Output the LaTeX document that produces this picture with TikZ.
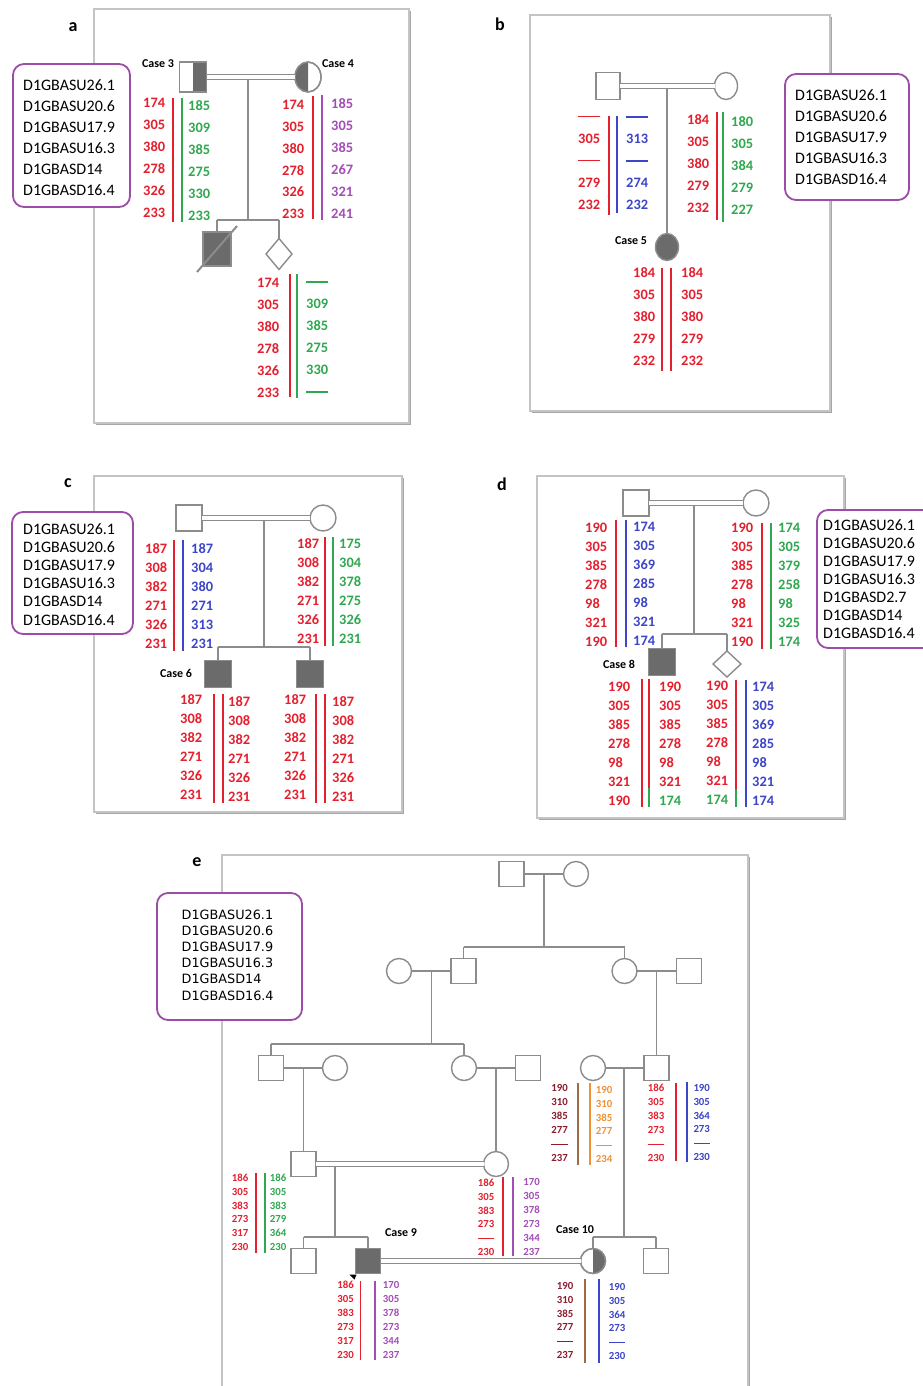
\documentclass[tikz,border=0pt]{standalone}
\usepackage{fontspec}
\setmainfont{Carlito}
\newfontfamily\dvfont{DejaVu Sans}
\usetikzlibrary{shapes.geometric,calc}
\definecolor{ared}{HTML}{E5202E}
\definecolor{agreen}{HTML}{2FA84F}
\definecolor{ablue}{HTML}{3D45C8}
\definecolor{apurple}{HTML}{A34DB6}
\definecolor{boxpurple}{HTML}{9C4DA8}
\definecolor{dred}{HTML}{8B1E2E}
\definecolor{abrown}{HTML}{A06A48}
\definecolor{aorange}{HTML}{F29035}
\definecolor{pedgray}{HTML}{8C8C8C}
\definecolor{affgray}{HTML}{6B6B6B}
\definecolor{framegray}{HTML}{C4C4C4}
\definecolor{shadowgray}{HTML}{A6A6A6}
\tikzset{
  ped/.style={draw=pedgray, line width=1.3pt},
  shp/.style={draw=pedgray, line width=1.4pt, fill=white, inner sep=0pt, outer sep=0pt},
  sqn/.style={shp, rectangle, minimum width=26pt, minimum height=26pt},
  cin/.style={shp, ellipse, minimum width=26pt, minimum height=26pt},
  dian/.style={shp, diamond, minimum width=26pt, minimum height=26pt},
  dbl/.style={draw=pedgray, double=white, double distance=3.6pt, line width=1.5pt},
  num/.style={font=\fontsize{14.4}{14}\selectfont\bfseries, inner sep=0pt, anchor=base west},
  snum/.style={font=\fontsize{10.8}{11}\selectfont\bfseries, inner sep=0pt, anchor=base west},
  mk/.style={font=\fontsize{16}{16}\selectfont, inner sep=0pt, anchor=base west},
  mke/.style={font=\dvfont\fontsize{12.8}{13}\selectfont, inner sep=0pt, anchor=base west},
  casel/.style={font=\fontsize{12}{12}\selectfont\bfseries, inner sep=0pt},
  plab/.style={font=\fontsize{18}{18}\selectfont\bfseries, inner sep=0pt},
  mbox/.style={draw=boxpurple, line width=1.8pt, rounded corners=11pt, fill=white},
  frm/.style={draw=framegray, line width=1.3pt},
  shd/.style={draw=shadowgray, line width=1.6pt},
  abarst/.style={line width=1.7pt},
  sbarst/.style={line width=1.4pt},
}
\newcommand\adash{\rule[0.28em]{1.5em}{0.09em}}
\newcommand\acol[6]{\foreach \v [count=\i] in {#6}{\node[num,text=#5] (#1\i) at ({#2-11},{#3+(\i-1)*#4+4.6}) {\v};}}
\newcommand\scol[6]{\foreach \v [count=\i] in {#6}{\node[snum,text=#5] (#1\i) at ({#2-8.3},{#3+(\i-1)*#4+3.5}) {\v};}}
\newcommand\abar[4]{\draw[abarst,#1] (#2,#3) -- (#2,#4);}
\newcommand\sbar[4]{\draw[sbarst,#1] (#2,#3) -- (#2,#4);}
\newcommand\mtext[6]{\foreach \t [count=\i] in {#6}{\node[#5] (#1\i) at (#2,{#3+(\i-1)*#4+5.1}) {\t};}}
\begin{document}
\begin{tikzpicture}[x=1pt,y=-1pt]
\useasboundingbox (0,0) rectangle (922,1386);
\fill[white] (0,0) rectangle (922,1386);
% frames with light shadow
\draw[shd] (410.5,11) -- (410.5,424.5) -- (96,424.5);
\draw[shd] (831.5,17) -- (831.5,412.5) -- (532,412.5);
\draw[shd] (403.5,478) -- (403.5,813.5) -- (96,813.5);
\draw[shd] (845.5,478) -- (845.5,819.5) -- (539,819.5);
\draw[shd] (749.5,857) -- (749.5,1392);
\draw[frm] (94,9) rectangle (409,423);
\draw[frm] (530,15) rectangle (830,411);
\draw[frm] (94,476) rectangle (402,812);
\draw[frm] (537,476) rectangle (844,818);
\draw[frm] (222,1392) -- (222,855) -- (748,855) -- (748,1392);
% panel labels
\node[plab] (la) at (73,27) {a};
\node[plab] (lb) at (500,24) {b};
\node[plab] (lc) at (68,483) {c};
\node[plab] (ld) at (502,484) {d};
\node[plab] (le) at (197,862) {e};
% marker boxes
\draw[mbox] (13,64) rectangle (130,207);
\draw[mbox] (785,74) rectangle (909,200);
\draw[mbox] (12,512) rectangle (133,634);
\draw[mbox] (817,510) rectangle (935,648);
\draw[mbox] (157,893) rectangle (302,1020);
\mtext{ma}{23}{85}{21}{mk}{D1GBASU26.1,D1GBASU20.6,D1GBASU17.9,D1GBASU16.3,D1GBASD14,D1GBASD16.4}
\mtext{mb}{795}{95}{21}{mk}{D1GBASU26.1,D1GBASU20.6,D1GBASU17.9,D1GBASU16.3,D1GBASD16.4}
\mtext{mc}{23}{529}{18.2}{mk}{D1GBASU26.1,D1GBASU20.6,D1GBASU17.9,D1GBASU16.3,D1GBASD14,D1GBASD16.4}
\mtext{md}{823}{525}{18}{mk}{D1GBASU26.1,D1GBASU20.6,D1GBASU17.9,D1GBASU16.3,D1GBASD2.7,D1GBASD14,D1GBASD16.4}
\mtext{me}{181.5}{914}{16.2}{mke}{D1GBASU26.1,D1GBASU20.6,D1GBASU17.9,D1GBASU16.3,D1GBASD14,D1GBASD16.4}
% ================= panel a
\node[sqn, minimum width=27pt, minimum height=30pt] (a3) at (193,77) {};
\fill[affgray] (a3.north) rectangle (a3.south east);
\draw[draw=pedgray, line width=1.4pt] (a3.north west) rectangle (a3.south east);
\node[cin, minimum width=26pt, minimum height=30pt] (a4) at (308,77) {};
\begin{scope}
\clip (a4.west |- a4.north) rectangle (a4.south);
\fill[affgray] (a4.center) ellipse [x radius=13pt, y radius=15pt];
\end{scope}
\draw[draw=pedgray, line width=1.4pt] (a4.center) ellipse [x radius=13pt, y radius=15pt];
\draw[dbl] (a3.east) -- (a4.west);
\node[sqn, fill=affgray, minimum width=28pt, minimum height=34pt] (ach) at (217,249) {};
\node[dian, minimum width=26pt, minimum height=31pt] (adi) at (279,254) {};
\coordinate (am) at (248,80);
\coordinate (as) at (248,220);
\coordinate (asl) at (217,220);
\coordinate (asr) at (279,220);
\draw[ped] (am) -- (as);
\draw[ped] (asl) -- (asr);
\draw[ped] (asl) -- (ach.north);
\draw[ped] (asr) -- (adi.north);
\draw[ped, line width=2pt] ($(ach.south west)+(-6,6)$) -- ($(ach.north east)+(6,-6)$);
\node[casel] (ac3) at (158,64) {Case 3};
\node[casel] (ac4) at (338,64) {Case 4};
\acol{a3r}{154}{103}{22}{ared}{174,305,380,278,326,233}
\abar{ared}{173}{98}{222}
\abar{agreen}{182}{98}{222}
\acol{a3g}{199}{106}{22}{agreen}{185,309,385,275,330,233}
\acol{a4r}{293}{105}{21.8}{ared}{174,305,380,278,326,233}
\abar{ared}{313}{96}{219}
\abar{apurple}{322}{95}{220}
\acol{a4p}{342}{104}{22}{apurple}{185,305,385,267,321,241}
\acol{adr}{268}{283}{22}{ared}{174,305,380,278,326,233}
\abar{ared}{290}{274}{397}
\abar{agreen}{297}{274}{398}
\acol{adg}{317}{282}{22}{agreen}{\adash,309,385,275,330,\adash}
% ================= panel b
\node[sqn, minimum width=24pt, minimum height=27pt] (bf) at (608,86) {};
\node[cin, minimum width=23pt, minimum height=27pt] (bm) at (726,86) {};
\draw[dbl] (bf.east) -- (bm.west);
\node[cin, fill=affgray, minimum width=23pt, minimum height=27pt] (b5) at (667,247) {};
\coordinate (bd) at (667,89);
\draw[ped] (bd) -- (b5.north);
\node[casel] (bc5) at (631,241) {Case 5};
\acol{bfr}{589}{116.5}{22}{ared}{\adash,305,\adash,279,232}
\abar{ared}{609}{116}{215}
\abar{ablue}{617}{116}{213}
\acol{bfb}{637}{117}{22}{ablue}{\adash,313,\adash,274,232}
\acol{bmr}{698}{120}{22}{ared}{184,305,380,279,232}
\abar{ared}{717}{112}{220}
\abar{agreen}{723}{112}{222}
\acol{bmg}{742}{122}{22}{agreen}{180,305,384,279,227}
\acol{bcl}{644}{273}{22}{ared}{184,305,380,279,232}
\abar{ared}{662}{268}{371}
\abar{ared}{671}{268}{371}
\acol{bcr}{692}{273}{22}{ared}{184,305,380,279,232}
% ================= panel c
\node[sqn] (cf) at (189,518) {};
\node[cin] (cm) at (323,518) {};
\draw[dbl] (cf.east) -- (cm.west);
\node[sqn, fill=affgray, minimum size=27pt] (c6) at (218,674) {};
\node[sqn, fill=affgray, minimum size=27pt] (c7) at (310,674) {};
\coordinate (cd) at (264,521);
\coordinate (cs) at (264,647);
\coordinate (csl) at (218,647);
\coordinate (csr) at (310,647);
\draw[ped] (cd) -- (cs);
\draw[ped] (csl) -- (csr);
\draw[ped] (csl) -- (c6.north);
\draw[ped] (csr) -- (c7.north);
\node[casel] (cc6) at (176,673) {Case 6};
\acol{cfr}{156}{549}{19}{ared}{187,308,382,271,326,231}
\abar{ared}{174}{540}{651}
\abar{ablue}{183}{540}{651}
\acol{cfb}{202}{549}{19}{ablue}{187,304,380,271,313,231}
\acol{cmr}{308}{544}{19}{ared}{187,308,382,271,326,231}
\abar{ared}{325}{537}{646}
\abar{agreen}{333}{537}{646}
\acol{cmg}{350}{544}{19}{agreen}{175,304,378,275,326,231}
\acol{c6l}{191}{700}{19}{ared}{187,308,382,271,326,231}
\abar{ared}{214}{694}{803}
\abar{ared}{223}{694}{803}
\acol{c6r}{239}{702}{19}{ared}{187,308,382,271,326,231}
\acol{c7l}{295}{700}{19}{ared}{187,308,382,271,326,231}
\abar{ared}{316}{694}{803}
\abar{ared}{325}{694}{803}
\acol{c7r}{343}{702}{19}{ared}{187,308,382,271,326,231}
% ================= panel d
\node[sqn] (df) at (636,503) {};
\node[cin] (dm) at (756,503) {};
\draw[dbl] (df.east) -- (dm.west);
\node[sqn, fill=affgray, minimum size=27pt] (d8) at (662,662) {};
\node[dian, minimum width=28pt, minimum height=26pt] (ddi) at (727,664) {};
\coordinate (dd) at (694,506);
\coordinate (ds) at (694,634);
\coordinate (dsl) at (662,634);
\coordinate (dsr) at (727,634);
\draw[ped] (dd) -- (ds);
\draw[ped] (dsl) -- (dsr);
\draw[ped] (dsl) -- (d8.north);
\draw[ped] (dsr) -- (ddi.north);
\node[casel] (dc8) at (619,664) {Case 8};
\acol{dfr}{596}{528}{19}{ared}{190,305,385,278,98,321,190}
\abar{ared}{616}{520}{647}
\abar{ablue}{626}{520}{647}
\acol{dfb}{644}{527}{19}{ablue}{174,305,369,285,98,321,174}
\acol{dmr}{742}{528}{19}{ared}{190,305,385,278,98,321,190}
\abar{ared}{762}{523}{649}
\abar{agreen}{771}{523}{649}
\acol{dmg}{789}{528}{19}{agreen}{174,305,379,258,98,325,174}
\acol{d8l}{619}{687}{19}{ared}{190,305,385,278,98,321,190}
\abar{ared}{642}{679}{807}
\abar{ared}{649}{679}{788}
\abar{agreen}{649}{788}{807}
\acol{d8r}{670}{687}{19}{ared}{190,305,385,278,98,321}
\node[num, text=agreen] (d8r7) at (659,805.6) {174};
\acol{ddl}{717}{686}{19}{ared}{190,305,385,278,98,321}
\node[num, text=agreen] (ddl7) at (706,804.6) {174};
\abar{ared}{736}{680}{789}
\abar{agreen}{736}{789}{807}
\abar{ablue}{746}{680}{807}
\acol{ddb}{763}{687}{19}{ablue}{174,305,369,285,98,321,174}
% ================= panel e
\node[sqn, minimum size=25pt] (e1) at (511.5,874) {};
\node[cin, minimum size=25pt] (e2) at (576,874) {};
\draw[ped] (e1.east) -- (e2.west);
\node[cin, minimum size=25pt] (e3) at (399,971) {};
\node[sqn, minimum size=25pt] (e4) at (463.5,971) {};
\node[cin, minimum size=25pt] (e5) at (624.5,971) {};
\node[sqn, minimum size=25pt] (e6) at (689,971) {};
\draw[ped] (e3.east) -- (e4.west);
\draw[ped] (e5.east) -- (e6.west);
\coordinate (ed1) at (544,874);
\coordinate (es1) at (544,947);
\coordinate (es1l) at (463.5,947);
\coordinate (es1r) at (624.5,947);
\draw[ped] (ed1) -- (es1);
\draw[ped] (es1l) -- (es1r);
\draw[ped] (es1l) -- (e4.north);
\draw[ped] (es1r) -- (e5.north);
\node[sqn, minimum size=25pt] (e7) at (271,1068) {};
\node[cin, minimum size=25pt] (e8) at (335,1068) {};
\node[cin, minimum size=25pt] (e9) at (464,1068) {};
\node[sqn, minimum size=25pt] (e10) at (528,1068) {};
\node[cin, minimum size=25pt] (e11) at (593,1068) {};
\node[sqn, minimum size=25pt] (e12) at (656.5,1068) {};
\draw[ped] (e7.east) -- (e8.west);
\draw[ped] (e9.east) -- (e10.west);
\draw[ped] (e11.east) -- (e12.west);
\coordinate (ed2) at (431.5,971);
\coordinate (es2) at (431.5,1044);
\coordinate (es2l) at (271,1044);
\coordinate (es2r) at (464,1044);
\draw[ped] (ed2) -- (es2);
\draw[ped] (es2l) -- (es2r);
\draw[ped] (es2l) -- (e7.north);
\draw[ped] (es2r) -- (e9.north);
\coordinate (ed3) at (656.5,971);
\draw[ped] (ed3) -- (e12.north);
\node[sqn, minimum size=25pt] (e13) at (303.5,1164) {};
\node[cin, minimum size=25pt] (e14) at (496,1164) {};
\draw[dbl] (e13.east) -- (e14.west);
\coordinate (ed4) at (303.5,1068);
\coordinate (ed5) at (496,1068);
\draw[ped] (ed4) -- (e13.north);
\draw[ped] (ed5) -- (e14.north);
\node[sqn, minimum size=25pt] (e15) at (303.5,1261) {};
\node[sqn, fill=affgray, minimum size=25pt] (e16) at (368,1261) {};
\node[cin, minimum size=25pt] (e17) at (593,1261) {};
\node[sqn, minimum size=25pt] (e18) at (656,1261) {};
\begin{scope}
\clip (e17.north) rectangle (e17.east |- e17.south);
\fill[affgray] (e17.center) circle [radius=12.5pt];
\end{scope}
\draw[draw=pedgray, line width=1.4pt] (e17.center) circle [radius=12.5pt];
\draw[dbl] (e16.east) -- (e17.west);
\coordinate (ed6) at (624,1068);
\coordinate (es6) at (624,1237);
\coordinate (es6l) at (593,1237);
\coordinate (es6r) at (656,1237);
\draw[ped] (ed6) -- (es6);
\draw[ped] (es6l) -- (es6r);
\draw[ped] (es6l) -- (e17.north);
\draw[ped] (es6r) -- (e18.north);
\coordinate (ed7) at (335,1167);
\coordinate (es7) at (335,1237);
\coordinate (es7l) at (303.5,1237);
\coordinate (es7r) at (368,1237);
\draw[ped] (ed7) -- (es7);
\draw[ped] (es7l) -- (es7r);
\draw[ped] (es7l) -- (e15.north);
\draw[ped] (es7r) -- (e16.north);
\fill[black] ($(e16.south west)+(-6,1)$) -- ($(e16.south west)+(1,1)$) -- ($(e16.south west)+(-1,6)$) -- cycle;
\node[casel] (ec9) at (401,1233) {Case 9};
\node[casel] (ec10) at (575,1230) {Case 10};
\scol{eka}{559.5}{1088}{14}{dred}{190,310,385,277,\adash,237}
\sbar{abrown}{578}{1083}{1165}
\sbar{aorange}{590}{1083}{1165}
\scol{ekb}{604}{1090}{13.8}{aorange}{190,310,385,277,\adash,234}
\scol{ela}{656}{1088}{14}{ared}{186,305,383,273,\adash,230}
\sbar{ared}{676}{1083}{1161}
\sbar{ablue}{687}{1082}{1162}
\scol{elb}{701.6}{1088}{13.8}{ablue}{190,305,364,273,\adash,230}
\scol{ema}{240}{1178}{13.8}{ared}{186,305,383,273,317,230}
\sbar{ared}{256}{1173}{1253}
\sbar{agreen}{265}{1173}{1253}
\scol{emb}{278}{1178}{13.8}{agreen}{186,305,383,279,364,230}
\scol{ena}{486}{1183}{13.8}{ared}{186,305,383,273,\adash,230}
\sbar{ared}{503}{1177}{1256}
\sbar{apurple}{513}{1177}{1256}
\scol{enb}{531.5}{1182}{13.9}{apurple}{170,305,378,273,344,237}
\scol{eoa}{345.5}{1285}{13.9}{ared}{186,305,383,273,317,230}
\sbar{ared}{360.6}{1281}{1360}
\sbar{apurple}{375}{1281}{1360}
\scol{eob}{391}{1285}{13.9}{apurple}{170,305,378,273,344,237}
\scol{epa}{565}{1286}{13.8}{dred}{190,310,385,277,\adash,237}
\sbar{abrown}{585}{1279}{1363}
\sbar{ablue}{599}{1279}{1363}
\scol{epb}{617}{1287}{13.8}{ablue}{190,305,364,273,\adash,230}
\end{tikzpicture}
\end{document}
